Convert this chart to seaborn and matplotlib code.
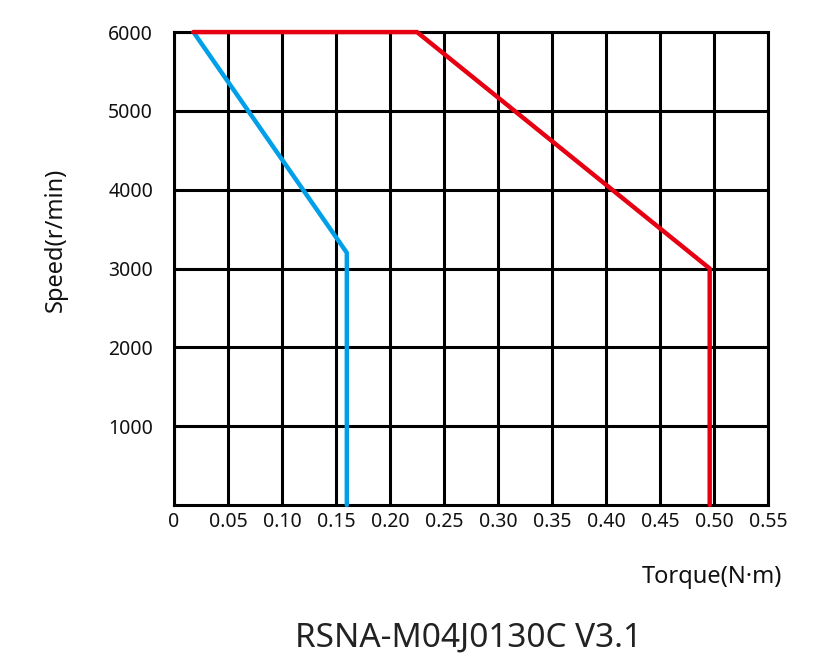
import numpy as np
import pandas as pd
import matplotlib
matplotlib.use("Agg")
import matplotlib.pyplot as plt
import seaborn as sns

# Torque-speed curve data
blue_torque = [0.018, 0.16, 0.16]
blue_speed = [6000, 3200, 0]

red_torque = [0.018, 0.225, 0.496, 0.496]
red_speed = [6000, 6000, 3000, 0]

x_ticks = [0, 0.05, 0.10, 0.15, 0.20, 0.25, 0.30, 0.35, 0.40, 0.45, 0.50, 0.55]
x_tick_labels = ["0", "0.05", "0.10", "0.15", "0.20", "0.25", "0.30",
                 "0.35", "0.40", "0.45", "0.50", "0.55"]
y_ticks = [1000, 2000, 3000, 4000, 5000, 6000]
y_tick_labels = ["1000", "2000", "3000", "4000", "5000", "6000"]

sns.set_style("white")
plt.rcParams["font.family"] = ["Noto Sans", "DejaVu Sans"]

fig = plt.figure(figsize=(8.31, 6.68), dpi=100)
ax = fig.add_axes([0.2094, 0.244, 0.9242 - 0.2094, 0.952 - 0.244])

blue_df = pd.DataFrame({"torque": blue_torque, "speed": blue_speed})
red_df = pd.DataFrame({"torque": red_torque, "speed": red_speed})

sns.lineplot(data=blue_df, x="torque", y="speed", sort=False, estimator=None,
             ax=ax, color="#00A0E9", linewidth=3.2, zorder=5, clip_on=False)
sns.lineplot(data=red_df, x="torque", y="speed", sort=False, estimator=None,
             ax=ax, color="#E60012", linewidth=3.2, zorder=5, clip_on=False)

ax.set_xlim(0, 0.55)
ax.set_ylim(0, 6000)
ax.set_xticks(x_ticks)
ax.set_xticklabels(x_tick_labels)
ax.set_yticks(y_ticks)
ax.set_yticklabels(y_tick_labels)

ax.grid(True, color="black", linewidth=2.2)
ax.set_axisbelow(True)
for s in ax.spines.values():
    s.set_color("black")
    s.set_linewidth(2.2)

ax.tick_params(axis="x", length=0, pad=5, labelsize=14, labelcolor="#111111")
ax.tick_params(axis="y", length=0, pad=15, labelsize=14, labelcolor="#111111")
ax.set_xlabel("")
ax.set_ylabel("")

fig.text(0.857, 0.136, "Torque(N·m)", ha="center", va="center", fontsize=17,
         color="#111111")
fig.text(0.067, 0.641, "Speed(r/min)", ha="center", va="center",
         rotation=90, fontsize=17, color="#111111")
fig.text(0.564, 0.045, "RSNA-M04J0130C V3.1", ha="center", va="center",
         fontsize=24, color="#222222")

fig.savefig("out.png", dpi=100)
